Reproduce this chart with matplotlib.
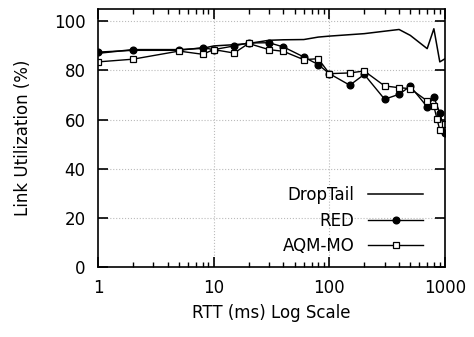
import numpy as np
import matplotlib
matplotlib.use('Agg')
import matplotlib.pyplot as plt
from matplotlib.ticker import NullFormatter

# RTT values (ms) and link utilization (%)
rtt_droptail = [1, 2, 5, 8, 10, 15, 20, 30, 40, 60, 80, 100, 200, 300, 400, 500, 700, 800, 900, 1000]
util_droptail = [87, 88.5, 88.5, 89, 90, 90.5, 91, 92.3, 92.5, 92.6, 93.6, 94, 95, 96, 96.7, 94.3, 88.9, 97, 83.5, 84.8]

rtt_red = [1, 2, 5, 8, 10, 15, 20, 30, 40, 60, 80, 100, 150, 200, 300, 400, 500, 700, 800, 900, 1000]
util_red = [87.5, 88.2, 88.2, 89.3, 88.5, 90, 91.2, 91.3, 89.6, 85.5, 82.4, 78.7, 74, 78.4, 68.3, 70.3, 73.6, 65.2, 69.2, 62.7, 54.7]

rtt_aqm = [1, 2, 5, 8, 10, 15, 20, 30, 40, 60, 80, 100, 150, 200, 300, 400, 500, 700, 800, 850, 900, 1000]
util_aqm = [83.5, 84.6, 87.9, 86.6, 88.5, 87.1, 91, 88.5, 87.8, 84.4, 84.8, 78.7, 79, 79.8, 73.7, 73, 72.6, 67.6, 65.4, 60.4, 55.7, 58.1]

x_ticks = [1, 10, 100, 1000]
x_ticklabels = ['1', '10', '100', '1000']
y_ticks = [0, 20, 40, 60, 80, 100]

plt.rcParams['font.family'] = ['DejaVu Sans']
plt.rcParams['font.size'] = 12
plt.rcParams['xtick.direction'] = 'in'
plt.rcParams['ytick.direction'] = 'in'
plt.rcParams['xtick.top'] = True
plt.rcParams['ytick.right'] = True
plt.rcParams['xtick.major.size'] = 7
plt.rcParams['ytick.major.size'] = 7
plt.rcParams['xtick.minor.size'] = 3.5
plt.rcParams['ytick.minor.size'] = 3.5
plt.rcParams['xtick.major.width'] = 1.2
plt.rcParams['ytick.major.width'] = 1.2
plt.rcParams['xtick.minor.width'] = 1.0
plt.rcParams['xtick.major.pad'] = 9
plt.rcParams['ytick.major.pad'] = 9
plt.rcParams['axes.linewidth'] = 1.2

fig = plt.figure(figsize=(4.74, 3.37), dpi=100)
ax = fig.add_axes([0.207, 0.208, 0.732, 0.765])

ax.plot(rtt_droptail, util_droptail, color='black', lw=1.1, label='DropTail')
ax.plot(rtt_red, util_red, color='black', lw=1.0, marker='o', markersize=4.8,
        label='RED')
ax.plot(rtt_aqm, util_aqm, color='black', lw=1.0, marker='s', markersize=5,
        markerfacecolor='white', markeredgewidth=0.9, label='AQM-MO')

ax.set_xscale('log')
ax.set_xlim(1, 1000)
ax.set_ylim(0, 105)
ax.set_xticks(x_ticks)
ax.set_xticklabels(x_ticklabels)
ax.xaxis.set_minor_formatter(NullFormatter())
ax.set_yticks(y_ticks)

# dotted grid lines drawn by hand-free helper
for v in [10, 100]:
    ax.axvline(v, color='#bbbbbb', linestyle=':', linewidth=0.8, zorder=0)
for v in [20, 40, 60, 80, 100]:
    ax.axhline(v, color='#bbbbbb', linestyle=':', linewidth=0.8, zorder=0)

ax.set_xlabel('RTT (ms) Log Scale', labelpad=5)
ax.set_ylabel('Link Utilization (%)', labelpad=16)

ax.legend(loc='lower right', frameon=False, markerfirst=False,
          handlelength=3.3, labelspacing=0.45, borderaxespad=0.3,
          bbox_to_anchor=(0.97, 0.0))

fig.savefig('out.png', dpi=100)
